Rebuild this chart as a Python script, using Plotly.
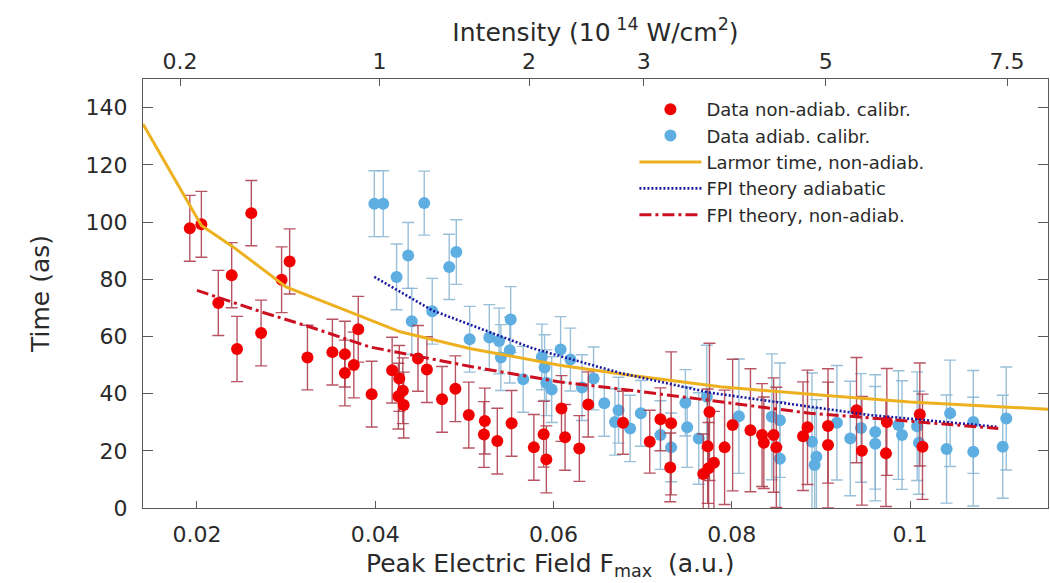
import numpy as np
import plotly.graph_objects as go

# ---------------- data ----------------
red_F = [0.0192, 0.0205, 0.0224, 0.0239, 0.0245, 0.0261, 0.0272, 0.0295, 0.0304, 0.0324,
         0.0352, 0.0366, 0.0366, 0.0376, 0.0381, 0.0396, 0.0419, 0.0427, 0.0426, 0.0431,
         0.0432, 0.0448, 0.0458, 0.0475, 0.0490, 0.0505, 0.0523, 0.0522, 0.0537, 0.0553,
         0.0578, 0.0589, 0.0592, 0.0609, 0.0613, 0.0629, 0.0639, 0.0678, 0.0708, 0.0720,
         0.0732, 0.0731, 0.0768, 0.0774, 0.0780, 0.0773, 0.0775, 0.0792, 0.0801, 0.0821,
         0.0834, 0.0836, 0.0847, 0.0850, 0.0880, 0.0885, 0.0908, 0.0908, 0.0940, 0.0946,
         0.0974, 0.0973, 0.1011, 0.1014]
red_T = [97.8, 99.2, 71.7, 81.4, 55.6, 103.1, 61.2, 79.8, 86.2, 52.6,
         54.5, 53.8, 47.2, 50.0, 62.5, 39.8, 48.2, 45.3, 39.1, 41.0,
         36.0, 52.3, 48.4, 38.0, 41.7, 32.5, 30.4, 25.7, 23.4, 29.6,
         21.2, 25.8, 17.0, 34.8, 24.7, 20.8, 36.2, 29.8, 23.2, 31.0,
         29.6, 14.2, 11.9, 13.9, 15.8, 21.6, 33.6, 21.2, 29.0, 27.2,
         25.5, 22.8, 25.5, 21.2, 25.1, 28.2, 28.7, 22.0, 34.2, 20.0,
         30.1, 19.1, 32.7, 21.4]
red_err = [11.5, 11.5, 11.4, 11.4, 11.4, 11.4, 11.5, 11.5, 11.4, 11.3,
           11.5, 11.5, 11.5, 11.5, 11.5, 11.5, 11.5, 11.5, 11.5, 11.5,
           11.5, 11.5, 11.5, 11.5, 11.5, 11.5, 11.5, 11.5, 11.5, 11.5,
           11.5, 11.5, 11.7, 11.5, 11.5, 11.5, 11.4, 11.0, 11.0, 11.0,
           25.0, 12.0, 14.0, 16.0, 18.0, 20.0, 24.0, 20.0, 23.0, 21.5,
           18.0, 16.0, 20.0, 21.0, 19.0, 20.0, 20.0, 22.0, 18.4, 19.0,
           18.7, 18.6, 18.0, 18.4]

blue_F = [0.0399, 0.0409, 0.0424, 0.0437, 0.0441, 0.0455, 0.0464, 0.0483, 0.0491, 0.0506,
          0.0528, 0.0539, 0.0541, 0.0551, 0.0552, 0.0566, 0.0587, 0.0590, 0.0592, 0.0598,
          0.0608, 0.0619, 0.0632, 0.0645, 0.0657, 0.0669, 0.0673, 0.0686, 0.0698, 0.0720,
          0.0732, 0.0748, 0.0750, 0.0763, 0.0772, 0.0808, 0.0845, 0.0854, 0.0854, 0.0890,
          0.0895, 0.0893, 0.0918, 0.0933, 0.0945, 0.0961, 0.0961, 0.0987, 0.0991, 0.1008,
          0.1010, 0.1045, 0.1041, 0.1071, 0.1071, 0.1108, 0.1104]
blue_T = [106.4, 106.4, 80.8, 88.3, 65.3, 106.6, 68.8, 84.3, 89.5, 59.0,
          59.6, 58.4, 52.6, 55.2, 65.9, 45.0, 52.8, 49.1, 43.8, 41.4,
          55.4, 51.9, 42.1, 45.3, 36.6, 30.1, 34.2, 27.8, 33.1, 25.5,
          21.2, 36.8, 28.2, 24.3, 38.9, 32.1, 31.9, 30.7, 17.2, 23.2,
          17.9, 15.0, 29.8, 24.3, 28.0, 26.6, 22.5, 29.0, 25.5, 28.6,
          22.8, 33.1, 20.6, 30.1, 19.7, 31.3, 21.4]
blue_err = [11.5, 11.5, 11.5, 11.5, 11.5, 11.2, 11.5, 11.4, 11.3, 11.5,
            11.5, 11.5, 11.5, 11.5, 11.5, 11.5, 11.5, 11.5, 11.5, 11.5,
            11.5, 11.0, 11.5, 11.0, 11.5, 11.6, 11.5, 11.6, 11.5, 12.0,
            12.0, 11.6, 14.0, 16.0, 18.0, 20.0, 22.0, 20.0, 20.0, 24.0,
            20.0, 20.0, 20.0, 20.0, 19.0, 20.0, 20.0, 19.0, 19.0, 19.0,
            18.0, 18.6, 18.9, 18.0, 19.0, 18.0, 18.0]

larmor_F = [0.01395, 0.0205, 0.0241, 0.0300, 0.0372, 0.0428, 0.0506, 0.0607,
            0.0686, 0.0787, 0.0899, 0.1000, 0.1157]
larmor_T = [134.3, 98.8, 91.2, 77.3, 68.5, 61.6, 55.8, 49.9,
            46.4, 42.4, 39.5, 37.1, 34.5]

fpi_ad_F = [0.0399, 0.0464, 0.0531, 0.0577, 0.0675, 0.0776, 0.0888, 0.0955, 0.1097]
fpi_ad_T = [80.8, 69.1, 61.2, 55.8, 47.2, 40.3, 35.4, 32.5, 28.4]

fpi_na_F = [0.0200, 0.0273, 0.0327, 0.0394, 0.0510, 0.0607, 0.0686, 0.0787, 0.0888, 0.0963, 0.1099]
fpi_na_T = [76.1, 68.5, 63.3, 56.3, 49.3, 44.1, 41.2, 37.1, 33.1, 31.3, 27.8]

x_ticks = [0.02, 0.04, 0.06, 0.08, 0.1]
x_tick_labels = ["0.02", "0.04", "0.06", "0.08", "0.1"]
y_ticks = [0, 20, 40, 60, 80, 100, 120, 140]
intensity_ticks = [0.2, 1, 2, 3, 5, 7.5]
intensity_labels = ["0.2", "1", "2", "3", "5", "7.5"]
INTENSITY_PER_F2 = 610.0   # I [1e14 W/cm^2] = 610 * F^2 (elliptical field)

X_RANGE = [0.01395, 0.11548]
Y_RANGE = [0, 150]

# ---------------- styling ----------------
FONT = "DejaVu Sans"
TXT = "#2a2a2a"
AX = "#5a5a5a"

fig = go.Figure()

fig.add_trace(go.Scatter(
    x=blue_F, y=blue_T, mode="markers", name="Data adiab. calibr.", legendrank=2,
    marker=dict(color="#5eaee2", size=12),
    error_y=dict(type="data", array=blue_err, color="rgba(135,180,210,0.85)", thickness=1.4, width=6),
))
fig.add_trace(go.Scatter(
    x=red_F, y=red_T, mode="markers", name="Data non-adiab. calibr.", legendrank=1,
    marker=dict(color="#f00000", size=12),
    error_y=dict(type="data", array=red_err, color="rgba(170,55,70,0.85)", thickness=1.4, width=6),
))
# theory curves are drawn on the top (intensity) axis, which shares the same field range
fig.add_trace(go.Scatter(
    x=larmor_F, y=larmor_T, mode="lines", name="Larmor time, non-adiab.", legendrank=3,
    xaxis="x2", line=dict(color="#edb120", width=3),
))
fig.add_trace(go.Scatter(
    x=fpi_ad_F, y=fpi_ad_T, mode="lines", name="FPI theory adiabatic", legendrank=4,
    xaxis="x2", line=dict(color="#1a1aa0", width=2.6, dash="2px,2px"),
))
fig.add_trace(go.Scatter(
    x=fpi_na_F, y=fpi_na_T, mode="lines", name="FPI theory, non-adiab.", legendrank=5,
    xaxis="x2", line=dict(color="#cc1020", width=3, dash="12px,4px,3px,4px"),
))

intensity_pos = [float(np.sqrt(i / INTENSITY_PER_F2)) for i in intensity_ticks]

fig.update_layout(
    width=1050, height=583,
    margin=dict(l=143, r=2, t=79, b=75),
    paper_bgcolor="white", plot_bgcolor="white",
    font=dict(family=FONT, color=TXT, size=22),
    showlegend=True,
    legend=dict(x=0.543, y=0.972, xanchor="left", yanchor="top",
                bgcolor="rgba(255,255,255,0)", borderwidth=0,
                font=dict(family=FONT, size=18, color=TXT),
                itemwidth=62, tracegroupgap=0),
    xaxis=dict(range=X_RANGE, tickvals=x_ticks, ticktext=x_tick_labels,
               ticks="inside", ticklen=7, tickwidth=1.2, tickcolor=AX,
               showline=True, linecolor=AX, linewidth=1.2, mirror=False,
               showgrid=False, zeroline=False,
               tickfont=dict(family=FONT, size=22, color=TXT), ticklabelstandoff=6),
    xaxis2=dict(range=X_RANGE, overlaying="x", side="top", anchor="y",
                tickvals=intensity_pos, ticktext=intensity_labels,
                ticks="inside", ticklen=7, tickwidth=1.2, tickcolor=AX,
                showline=True, linecolor=AX, linewidth=1.2,
                showgrid=False, zeroline=False,
                tickfont=dict(family=FONT, size=22, color=TXT), ticklabelstandoff=0,
                title=dict(text="Intensity (10<sup> 14</sup> W/cm<sup>2</sup>)",
                           font=dict(family=FONT, size=25, color=TXT), standoff=0)),
    yaxis=dict(range=Y_RANGE, tickvals=y_ticks,
               ticks="inside", ticklen=10, tickwidth=1.2, tickcolor=AX,
               showline=True, linecolor=AX, linewidth=1.2, mirror="ticks",
               showgrid=False, zeroline=False,
               tickfont=dict(family=FONT, size=22, color=TXT), ticklabelstandoff=10,
               title=dict(text="Time (as)", font=dict(family=FONT, size=25, color=TXT), standoff=28)),
)

fig.add_annotation(
    text="Peak Electric Field F<sub>max</sub>  (a.u.)",
    xref="paper", yref="paper", x=(550 - 143) / 905, y=-(547 - 508) / 429,
    xanchor="center", yanchor="top", showarrow=False,
    font=dict(family=FONT, size=25, color=TXT),
)

fig.write_html("out.html")
